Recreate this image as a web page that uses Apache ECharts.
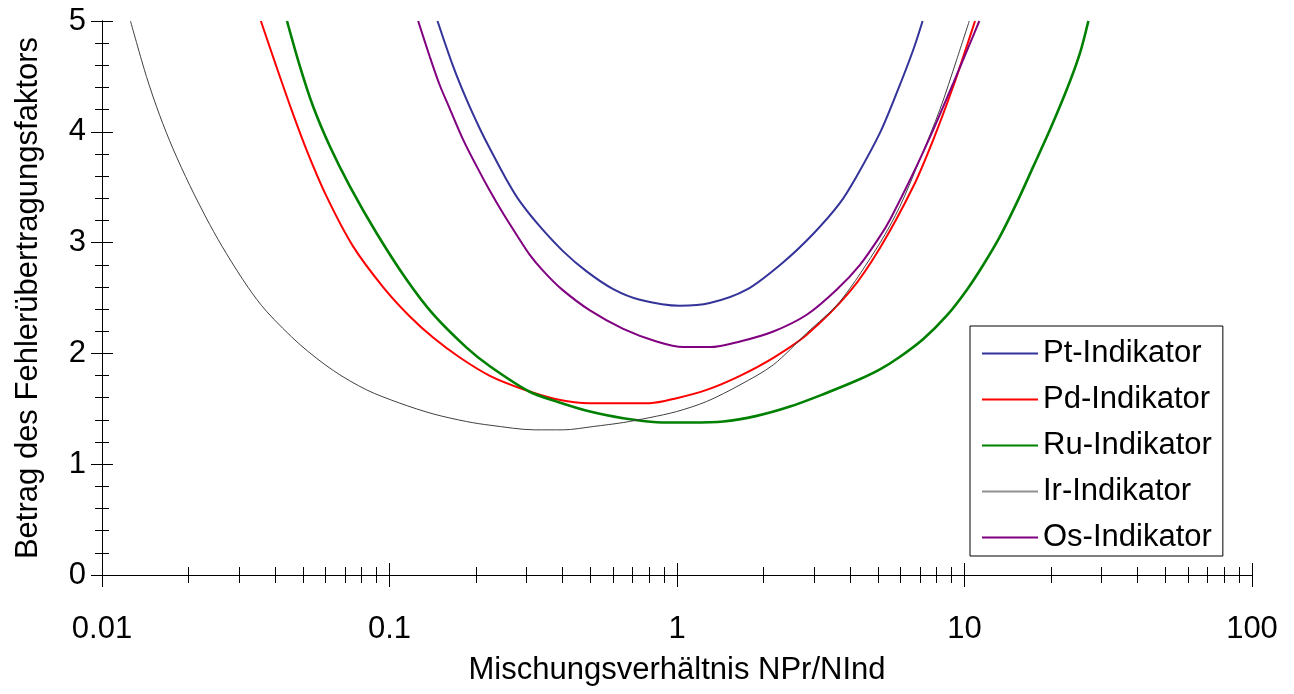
<!DOCTYPE html>
<html>
<head>
<meta charset="utf-8">
<script src="https://cdn.jsdelivr.net/npm/echarts@6/dist/echarts.min.js"></script>
<style>
html,body{margin:0;padding:0;background:#fff;}
#chart{width:1294px;height:694px;}
</style>
</head>
<body>
<div id="chart"></div>
<script>
// ---- data ----
const seriesNames = ['Pt-Indikator', 'Pd-Indikator', 'Ru-Indikator', 'Ir-Indikator', 'Os-Indikator'];

const ptX = [0.1469,0.1665,0.1854,0.206,0.2234,0.2553,0.2841,0.3334,0.402,0.4848,0.60,0.743,1.023,1.30,1.746,2.342,2.98,3.69,4.217,5.08,5.81,6.64,7.15];
const ptY = [5.0,4.59,4.29,4.03,3.849,3.568,3.372,3.146,2.921,2.74,2.58,2.484,2.43,2.454,2.575,2.823,3.08,3.358,3.599,3.99,4.351,4.743,5.0];

const pdX = [0.0357,0.0404,0.0456,0.0514,0.0604,0.0747,0.095,0.1177,0.1418,0.1756,0.2234,0.2916,0.381,0.498,0.805,0.997,1.268,1.656,2.163,2.826,3.996,5.08,6.64,7.79,9.14,10.18,10.88];
const pdY = [5.0,4.59,4.20,3.84,3.417,2.966,2.599,2.333,2.143,1.963,1.798,1.677,1.587,1.551,1.551,1.596,1.671,1.798,1.960,2.168,2.559,2.951,3.508,3.93,4.411,4.772,5.0];

const ruX = [0.044,0.0488,0.0542,0.062,0.0728,0.0901,0.1146,0.1418,0.1854,0.2234,0.306,0.381,0.498,0.65,0.849,1.109,1.449,1.893,2.472,3.229,4.217,5.08,5.966,7.19,8.67,10.2,11.63,13.29,15.19,17.36,19.84,22.68,25.23,26.97];
const ruY = [5.0,4.59,4.23,3.869,3.508,3.087,2.667,2.354,2.052,1.884,1.656,1.566,1.475,1.415,1.379,1.376,1.385,1.436,1.52,1.632,1.755,1.856,1.97,2.13,2.34,2.575,2.80,3.056,3.358,3.688,4.02,4.381,4.713,5.0];

const irX = [0.01256,0.01427,0.01588,0.01766,0.0202,0.0237,0.0271,0.0322,0.0373,0.0488,0.0637,0.0832,0.1086,0.1418,0.1854,0.2234,0.32,0.402,0.511,0.65,0.805,0.997,1.268,1.656,2.163,2.826,3.69,5.08,5.96,6.99,8.21,9.39,10.39];
const irY = [5.0,4.50,4.147,3.847,3.516,3.163,2.90,2.597,2.381,2.080,1.846,1.671,1.551,1.454,1.385,1.352,1.31,1.31,1.34,1.376,1.421,1.475,1.566,1.716,1.897,2.183,2.469,2.996,3.327,3.749,4.20,4.65,5.0];

const osX = [0.1258,0.138,0.1496,0.162,0.1803,0.2008,0.2234,0.2485,0.2767,0.3076,0.3424,0.3968,0.498,0.65,0.849,1.051,1.30,1.656,2.163,2.826,3.59,4.33,5.08,5.505,6.64,7.79,9.14,10.46,11.26];
const osY = [5.0,4.68,4.42,4.21,3.93,3.69,3.467,3.262,3.071,2.89,2.745,2.58,2.388,2.222,2.108,2.057,2.057,2.108,2.198,2.349,2.575,2.80,3.056,3.207,3.629,4.02,4.44,4.80,5.0];

const xMajorTicks = [0.01, 0.1, 1, 10, 100];
const xTickLabels = ['0.01', '0.1', '1', '10', '100'];
const xMinorTicks = [0.02,0.03,0.04,0.05,0.06,0.07,0.08,0.09,0.2,0.3,0.4,0.5,0.6,0.7,0.8,0.9,2,3,4,5,6,7,8,9,20,30,40,50,60,70,80,90];

const xTitle = 'Mischungsverhältnis NPr/NInd';
const yTitle = 'Betrag des Fehlerübertragungsfaktors';

// ---- build ----
const FONT = '"Liberation Sans", Arial, sans-serif';
const zip = (xs, ys) => xs.map((x, i) => [x, ys[i]]);

const colors = ['#333399', '#ff0000', '#008000', '#404040', '#800080'];
const widths = [2, 2, 2.6, 1, 2];
const dataSets = [zip(ptX, ptY), zip(pdX, pdY), zip(ruX, ruY), zip(irX, irY), zip(osX, osY)];

function labelFor(v) {
  for (let i = 0; i < xMajorTicks.length; i++) {
    if (Math.abs(Math.log10(v) - Math.log10(xMajorTicks[i])) < 1e-6) return xTickLabels[i];
  }
  return '';
}

function xAxisDef(opts) {
  return Object.assign({
    type: 'log', logBase: 10, min: 0.01, max: 100, position: 'bottom',
    axisLine: { show: true, lineStyle: { color: '#000', width: 1 } },
    splitLine: { show: false },
    minorSplitLine: { show: false },
    axisLabel: { show: false },
    axisPointer: { show: false }
  }, opts);
}
function yAxisDef(opts) {
  return Object.assign({
    type: 'value', min: 0, max: 5, interval: 1, position: 'left',
    axisLine: { show: true, lineStyle: { color: '#000', width: 1 } },
    splitLine: { show: false },
    minorSplitLine: { show: false },
    axisLabel: { show: false }
  }, opts);
}

const option = {
  animation: false,
  backgroundColor: '#fff',
  textStyle: { fontFamily: FONT },
  grid: { left: 102, right: 42, top: 21, bottom: 119, containLabel: false },
  xAxis: [
    xAxisDef({
      axisTick: { show: true, inside: false, length: 12, customValues: xMajorTicks, lineStyle: { color: '#000', width: 1 } },
      axisLabel: { show: true, customValues: xMajorTicks, formatter: labelFor, fontSize: 31, fontFamily: FONT, color: '#000', margin: 39 },
      name: xTitle, nameLocation: 'middle', nameGap: 80,
      nameTextStyle: { fontSize: 31, fontFamily: FONT, color: '#000' }
    }),
    xAxisDef({ axisTick: { show: true, inside: true, length: 12, customValues: xMajorTicks, lineStyle: { color: '#000', width: 1 } } }),
    xAxisDef({ axisLine: { show: false }, axisTick: { show: true, inside: false, length: 8, customValues: xMinorTicks, lineStyle: { color: '#000', width: 1 } } }),
    xAxisDef({ axisLine: { show: false }, axisTick: { show: true, inside: true, length: 8, customValues: xMinorTicks, lineStyle: { color: '#000', width: 1 } } })
  ],
  yAxis: [
    yAxisDef({
      axisTick: { show: true, inside: false, length: 11, lineStyle: { color: '#000' } },
      minorTick: { show: true, splitNumber: 5, length: 7, lineStyle: { color: '#000' } },
      axisLabel: { show: true, fontSize: 31, fontFamily: FONT, color: '#000', margin: 16 },
      name: yTitle, nameLocation: 'middle', nameGap: 58, nameRotate: 90,
      nameTextStyle: { fontSize: 31, fontFamily: FONT, color: '#000' }
    }),
    yAxisDef({
      axisTick: { show: true, inside: true, length: 11, lineStyle: { color: '#000' } },
      minorTick: { show: true, splitNumber: 5, length: 7, lineStyle: { color: '#000' } }
    })
  ],
  legend: {
    orient: 'vertical',
    left: 970, top: 326,
    backgroundColor: '#fff',
    borderColor: '#000', borderWidth: 1,
    padding: [12, 11, 3, 12],
    itemGap: 15,
    itemWidth: 56, itemHeight: 2,
    icon: 'rect',
    textStyle: { fontSize: 31, fontFamily: FONT, color: '#000' },
    data: seriesNames.map((n, i) => ({ name: n, itemStyle: { color: i === 3 ? '#909090' : colors[i] } }))
  },
  series: seriesNames.map((n, i) => ({
    name: n,
    type: 'line',
    xAxisIndex: 0, yAxisIndex: 0,
    data: dataSets[i],
    showSymbol: false, symbol: 'none',
    smooth: 0.3,
    clip: true,
    color: colors[i],
    lineStyle: { color: colors[i], width: widths[i] },
    emphasis: { disabled: true },
    z: 2
  }))
};

const chart = echarts.init(document.getElementById('chart'), null, { renderer: 'canvas' });
chart.setOption(option);
</script>
</body>
</html>
